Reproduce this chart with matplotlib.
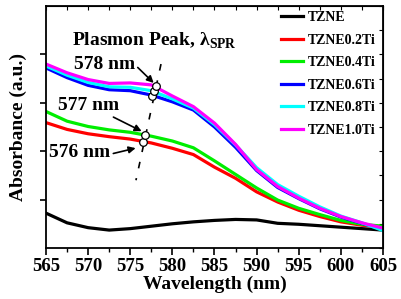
import numpy as np
import matplotlib
matplotlib.use('Agg')
import matplotlib.pyplot as plt

plt.rcParams['font.family'] = ['Liberation Serif', 'DejaVu Serif']
plt.rcParams['font.weight'] = 'bold'
plt.rcParams['mathtext.fontset'] = 'custom'
plt.rcParams['mathtext.rm'] = 'Liberation Serif:bold'
plt.rcParams['mathtext.bf'] = 'Liberation Serif:bold'

# wavelength grid (nm)
wavelength = [565, 567.5, 570, 572.5, 575, 577.5, 580, 582.5, 585, 587.5,
              590, 592.5, 595, 597.5, 600, 602.5, 605]

tzne = [0.72, 0.52, 0.42, 0.37, 0.40, 0.45, 0.50, 0.54, 0.57, 0.59,
        0.58, 0.51, 0.49, 0.46, 0.43, 0.40, 0.37]
tzne02 = [2.59, 2.45, 2.36, 2.30, 2.25, 2.17, 2.06, 1.93, 1.67, 1.44,
          1.16, 0.95, 0.78, 0.65, 0.54, 0.47, 0.44]
tzne04 = [2.82, 2.62, 2.51, 2.44, 2.39, 2.31, 2.21, 2.07, 1.80, 1.52,
          1.24, 0.99, 0.82, 0.69, 0.57, 0.49, 0.45]
tzne06 = [3.72, 3.52, 3.36, 3.27, 3.25, 3.16, 3.02, 2.85, 2.50, 2.08,
          1.60, 1.25, 1.02, 0.81, 0.64, 0.51, 0.38]
tzne08 = [3.76, 3.57, 3.42, 3.33, 3.32, 3.25, 3.08, 2.89, 2.55, 2.13,
          1.66, 1.31, 1.07, 0.85, 0.66, 0.52, 0.36]
tzne10 = [3.80, 3.62, 3.48, 3.40, 3.41, 3.37, 3.14, 2.92, 2.58, 2.14,
          1.62, 1.27, 1.03, 0.82, 0.65, 0.52, 0.41]

labels = ['TZNE', 'TZNE0.2Ti', 'TZNE0.4Ti', 'TZNE0.6Ti', 'TZNE0.8Ti', 'TZNE1.0Ti']
colors = ['black', '#ff0000', '#00ee00', '#0000ff', '#00ffff', '#ff00ff']
series = [tzne, tzne02, tzne04, tzne06, tzne08, tzne10]

# plasmon peak positions
peak_wl = [576.55, 576.75, 577.6, 577.8, 578.0]
peak_abs = [2.19, 2.34, 3.14, 3.24, 3.35]
trend_wl = [578.65, 575.68]
trend_abs = [3.80, 1.40]

fig = plt.figure(figsize=(4.01, 2.99), dpi=100)
ax = fig.add_axes([0.1147, 0.1706, 0.8404, 0.8094])

for y, c, lab in zip(series, colors, labels):
    ax.plot(wavelength, y, color=c, lw=2.3, label=lab)

ax.plot(trend_wl, trend_abs, color='black', lw=1.2, dashes=(4, 6))
ax.plot(peak_wl, peak_abs, 'o', ms=5.5, mfc='white', mec='black', mew=0.9)

ax.set_xlim(565, 605)
ax.set_ylim(0, 5)
ax.set_xticks(np.arange(565, 606, 5))
ax.set_xticks(np.arange(565, 606, 2.5), minor=True)
ax.set_yticks([1, 2, 3, 4])
ax.set_yticklabels([])
ax.tick_params(axis='x', which='major', direction='out', length=5, width=1.2,
               labelsize=13.5, pad=2)
ax.tick_params(axis='x', which='minor', direction='out', length=3, width=1)
ax.tick_params(axis='y', which='major', direction='out', length=4, width=1.2)
for s in ax.spines.values():
    s.set_linewidth(1.3)

top = ax.secondary_xaxis('top')
top.set_xticks(np.arange(565, 606, 2.5))
top.tick_params(direction='in', length=3, width=0.8, labeltop=False)
right = ax.secondary_yaxis('right')
right.set_yticks(np.arange(0, 5.01, 0.5))
right.tick_params(direction='in', length=3, width=0.8, labelright=False)

ax.set_xlabel('Wavelength (nm)', fontsize=14, fontweight='bold', labelpad=1)
ax.set_ylabel('Absorbance (a.u.)', fontsize=14, fontweight='bold', labelpad=6)

ax.text(568.1, 4.28, r'Plasmon Peak, λ$_{\mathrm{SPR}}$', fontsize=14,
        fontweight='bold', va='center', ha='left')

arr = dict(arrowstyle='-|>', color='black', lw=1.2, mutation_scale=10)
ax.annotate('578 nm', xy=(577.9, 3.39), xytext=(571.9, 3.80), fontsize=14,
            fontweight='bold', ha='center', va='center',
            arrowprops=dict(arr, shrinkA=0, shrinkB=1, relpos=(1.05, 0.3)))
ax.annotate('577 nm', xy=(576.5, 2.40), xytext=(570.1, 2.95), fontsize=14,
            fontweight='bold', ha='center', va='center',
            arrowprops=dict(arr, shrinkA=0, shrinkB=1, relpos=(0.9, -0.2)))
ax.annotate('576 nm', xy=(575.8, 2.07), xytext=(569.0, 1.97), fontsize=14,
            fontweight='bold', ha='center', va='center',
            arrowprops=dict(arr, shrinkA=0, shrinkB=1, relpos=(1.05, 0.45)))

ax.legend(loc='upper left', bbox_to_anchor=(0.697, 0.978), frameon=False,
          prop={'size': 10, 'weight': 'bold'}, handlelength=1.6,
          handletextpad=0.35, labelspacing=0.68, borderpad=0, borderaxespad=0)

fig.savefig('out.png', dpi=100)
